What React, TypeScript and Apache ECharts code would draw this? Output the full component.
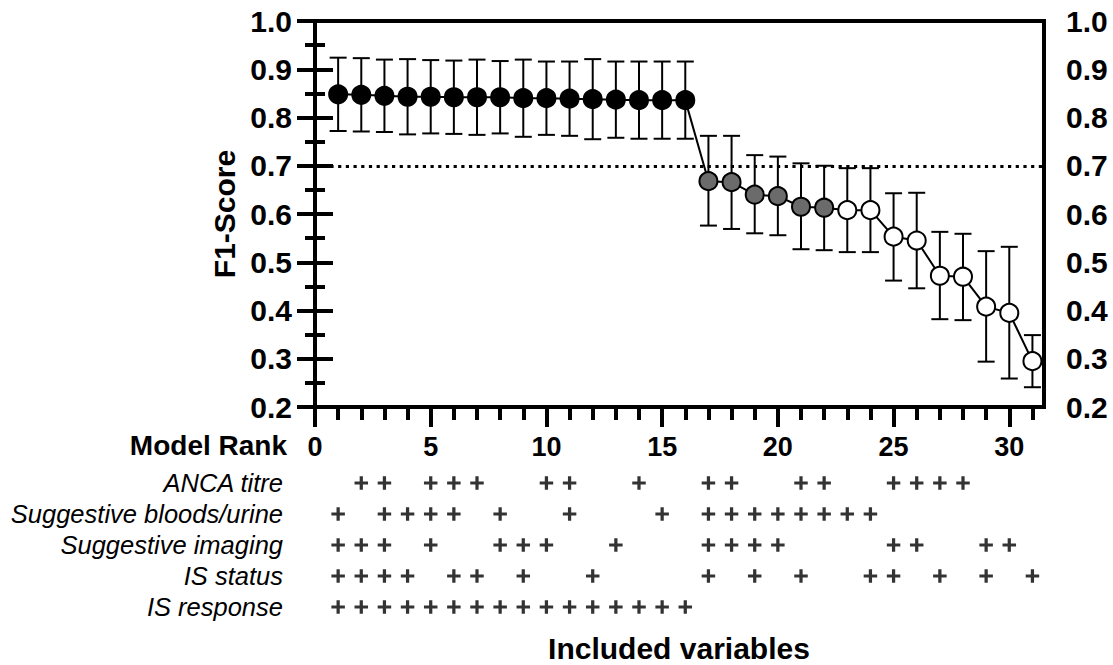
import React, { useEffect, useRef } from "react";
import * as echarts from "echarts";

// Model ranks 1..31
const ranks = [1, 2, 3, 4, 5, 6, 7, 8, 9, 10, 11, 12, 13, 14, 15, 16, 17, 18, 19, 20, 21, 22, 23, 24, 25, 26, 27, 28, 29, 30, 31];
// Mean F1-score per model
const f1Mean = [0.848, 0.847, 0.845, 0.843, 0.843, 0.842, 0.842, 0.842, 0.840, 0.840, 0.839, 0.838, 0.837, 0.836, 0.836, 0.836,
  0.668, 0.666, 0.640, 0.637, 0.615, 0.613, 0.608, 0.608, 0.553, 0.545, 0.472, 0.470, 0.408, 0.395, 0.295];
// Lower and upper error bar ends
const f1Low = [0.772, 0.771, 0.770, 0.765, 0.767, 0.766, 0.764, 0.767, 0.760, 0.764, 0.762, 0.755, 0.758, 0.756, 0.756, 0.756,
  0.576, 0.569, 0.560, 0.556, 0.527, 0.525, 0.521, 0.521, 0.462, 0.446, 0.382, 0.380, 0.294, 0.259, 0.241];
const f1High = [0.924, 0.923, 0.920, 0.921, 0.919, 0.918, 0.920, 0.917, 0.920, 0.916, 0.916, 0.921, 0.916, 0.916, 0.916, 0.916,
  0.762, 0.762, 0.722, 0.719, 0.705, 0.700, 0.695, 0.695, 0.643, 0.644, 0.563, 0.559, 0.523, 0.532, 0.349];
// Marker fill tier per model: 0 = black, 1 = grey, 2 = white
const fillTier = [0, 0, 0, 0, 0, 0, 0, 0, 0, 0, 0, 0, 0, 0, 0, 0, 1, 1, 1, 1, 1, 1, 2, 2, 2, 2, 2, 2, 2, 2, 2];
const tierColors = ["#000000", "#6b6b6b", "#ffffff"];
const threshold = 0.7;

// Included-variable table
const variableNames = ["ANCA titre", "Suggestive bloods/urine", "Suggestive imaging", "IS status", "IS response"];
const ancaTitre = [2, 3, 5, 6, 7, 10, 11, 14, 17, 18, 21, 22, 25, 26, 27, 28];
const bloodsUrine = [1, 3, 4, 5, 6, 8, 11, 15, 17, 18, 19, 20, 21, 22, 23, 24];
const imaging = [1, 2, 3, 5, 8, 9, 10, 13, 17, 18, 19, 20, 25, 26, 29, 30];
const isStatus = [1, 2, 3, 4, 6, 7, 9, 12, 17, 19, 21, 24, 25, 27, 29, 31];
const isResponse = [1, 2, 3, 4, 5, 6, 7, 8, 9, 10, 11, 12, 13, 14, 15, 16];
const variableRows = [ancaTitre, bloodsUrine, imaging, isStatus, isResponse];

const xMajorTicks = [0, 5, 10, 15, 20, 25, 30];
const xMinorTicks = ranks.filter((r) => r % 5 !== 0);

const FONT = "'Liberation Sans', Arial, Helvetica, sans-serif";

export default function App() {
  const ref = useRef<HTMLDivElement>(null);
  useEffect(() => {
    if (!ref.current) return;
    const chart = echarts.init(ref.current, null, { renderer: "svg" });
    const lineData = ranks.map((r, i) => ({
      value: [r, f1Mean[i]],
      itemStyle: { color: tierColors[fillTier[i]], borderColor: "#000", borderWidth: 2 },
    }));
    const errData = ranks.map((r, i) => [r, f1Low[i], f1High[i]]);
    const plusData: number[][] = [];
    variableRows.forEach((row, ri) => row.forEach((r) => plusData.push([r, ri])));

    const yCommon = {
      type: "value",
      min: 0.2,
      max: 1.0,
      interval: 0.1,
      splitLine: { show: false },
      axisLine: { show: true, lineStyle: { color: "#000", width: 4 } },
      axisTick: { show: true, length: 18, lineStyle: { color: "#000", width: 4 } },
      minorTick: { show: true, splitNumber: 2, length: 10, lineStyle: { color: "#000", width: 4 } },
      minorSplitLine: { show: false },
    };
    const yLabel = { color: "#000", fontFamily: FONT, fontWeight: "bold", fontSize: 30, formatter: (v: number) => v.toFixed(1) };
    const option: any = {
      animation: false,
      grid: [
        { left: 315, right: 69, top: 21, height: 386, show: true, borderColor: "#000", borderWidth: 4, backgroundColor: "transparent" },
        { left: 315, right: 69, top: 467.5, height: 155 },
      ],
      xAxis: [
        {
          type: "value", gridIndex: 0, min: 0, max: 31.5, position: "bottom",
          splitLine: { show: false },
          axisLine: { show: true, onZero: false, lineStyle: { color: "#000", width: 4 } },
          axisTick: { show: true, length: 20, customValues: xMajorTicks, lineStyle: { color: "#000", width: 4 } },
          axisLabel: { customValues: xMajorTicks, margin: 26, color: "#000", fontFamily: FONT, fontWeight: "bold", fontSize: 27 },
        },
        {
          type: "value", gridIndex: 0, min: 0, max: 31.5, position: "bottom",
          splitLine: { show: false },
          axisLine: { show: false, onZero: false },
          axisTick: { show: true, length: 13, customValues: xMinorTicks, lineStyle: { color: "#000", width: 4 } },
          axisLabel: { show: false },
        },
        {
          type: "value", gridIndex: 1, min: 0, max: 31.5, show: false,
        },
      ],
      yAxis: [
        {
          ...yCommon, gridIndex: 0, position: "left",
          name: "F1-Score", nameLocation: "middle", nameGap: 72,
          nameTextStyle: { color: "#000", fontFamily: FONT, fontWeight: "bold", fontSize: 30 },
          axisLabel: { ...yLabel, margin: 23 },
        },
        {
          ...yCommon, gridIndex: 0, position: "right",
          axisLabel: { ...yLabel, margin: 22 },
        },
        {
          type: "category", gridIndex: 1, data: variableNames, inverse: true,
          axisLine: { show: false }, axisTick: { show: false }, splitLine: { show: false },
          axisLabel: { interval: 0, margin: 32, color: "#000", fontFamily: FONT, fontStyle: "italic", fontSize: 25.5 },
        },
      ],
      series: [
        {
          type: "custom", xAxisIndex: 0, yAxisIndex: 0, z: 2,
          data: errData,
          encode: { x: 0, y: [1, 2] },
          renderItem: (params: any, api: any) => {
            const x = api.value(0);
            const pLo = api.coord([x, api.value(1)]);
            const pHi = api.coord([x, api.value(2)]);
            const hw = 8.5;
            const style = { stroke: "#000", lineWidth: 2 };
            return {
              type: "group",
              children: [
                { type: "line", shape: { x1: pLo[0], y1: pLo[1], x2: pHi[0], y2: pHi[1] }, style },
                { type: "line", shape: { x1: pLo[0] - hw, y1: pLo[1], x2: pLo[0] + hw, y2: pLo[1] }, style },
                { type: "line", shape: { x1: pHi[0] - hw, y1: pHi[1], x2: pHi[0] + hw, y2: pHi[1] }, style },
              ],
            };
          },
        },
        {
          type: "line", xAxisIndex: 0, yAxisIndex: 0, z: 3,
          data: lineData,
          symbol: "circle", symbolSize: 18,
          lineStyle: { color: "#000", width: 2 },
          markLine: {
            silent: true, symbol: "none", label: { show: false },
            lineStyle: { color: "#000", width: 3.2, type: [3.2, 4.5] },
            data: [{ yAxis: threshold }],
          },
        },
        {
          type: "scatter", xAxisIndex: 2, yAxisIndex: 2,
          data: plusData,
          symbol: "path://M3.8,0H6.2V3.8H10V6.2H6.2V10H3.8V6.2H0V3.8H3.8Z",
          symbolSize: 13.5,
          itemStyle: { color: "#000" },
        },
      ],
      graphic: [
        { type: "text", x: 287, y: 445, style: { text: "Model Rank", align: "right", verticalAlign: "middle", font: `bold 28px ${FONT}`, fill: "#000" } },
        { type: "text", x: 679, y: 648, style: { text: "Included variables", align: "center", verticalAlign: "middle", font: `bold 30px ${FONT}`, fill: "#000" } },
      ],
    };
    chart.setOption(option);
    return () => chart.dispose();
  }, []);
  return <div ref={ref} style={{ position: "absolute", left: 0, top: 0, width: 1113, height: 665, background: "#fff" }} />;
}
